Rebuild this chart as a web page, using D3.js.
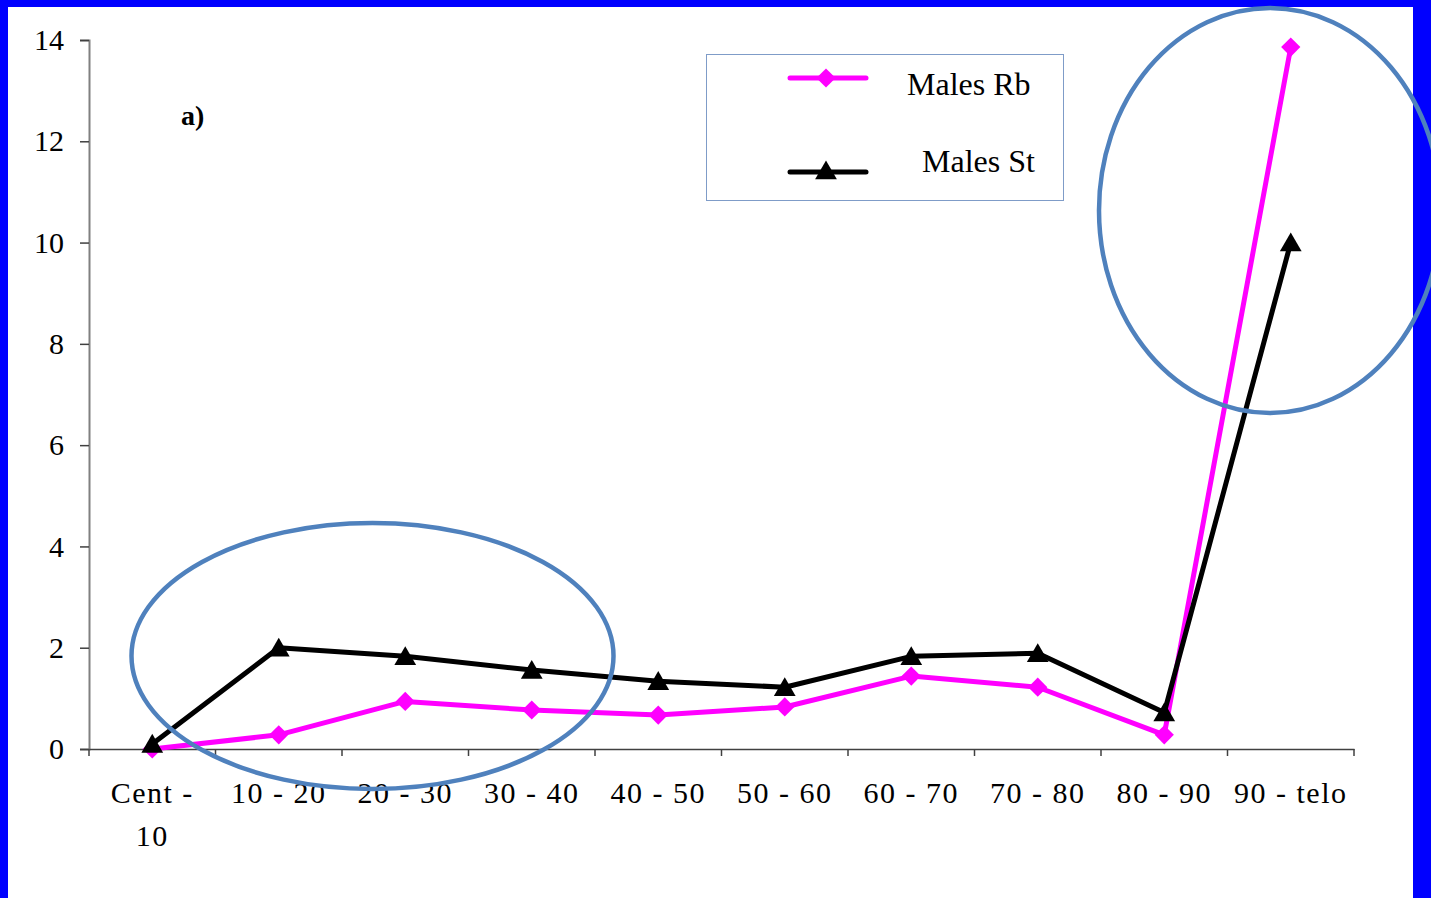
<!DOCTYPE html>
<html><head><meta charset="utf-8">
<script src="https://cdn.jsdelivr.net/npm/d3@7/dist/d3.min.js"></script>
<style>body{margin:0;background:#fff}svg{display:block}text{font-family:"Liberation Serif","Times New Roman",serif}</style>
</head><body>
<script>
const categories = ["Cent - 10","10 - 20","20 - 30","30 - 40","40 - 50","50 - 60","60 - 70","70 - 80","80 - 90","90 - telo"];
const tickLabels = [["Cent -","10"],["10 - 20"],["20 - 30"],["30 - 40"],["40 - 50"],["50 - 60"],["60 - 70"],["70 - 80"],["80 - 90"],["90 - telo"]];
const malesRb = [0, 0.28, 0.94, 0.77, 0.67, 0.83, 1.44, 1.22, 0.28, 13.86];
const malesSt = [0.1, 2.0, 1.83, 1.56, 1.34, 1.22, 1.83, 1.89, 0.72, 10.0];
const yTicks = [0,2,4,6,8,10,12,14];

const W=1431,H=898;
const svg=d3.select("body").append("svg").attr("width",W).attr("height",H);
svg.append("rect").attr("width",W).attr("height",H).attr("fill","#0000FF");
svg.append("rect").attr("x",8).attr("y",7).attr("width",1413-8).attr("height",H-7).attr("fill","#fff");

const x=d3.scaleBand().domain(categories).range([89,1354]).padding(0);
const y=d3.scaleLinear().domain([0,14]).range([749,40]);
const cx=c=>x(c)+x.bandwidth()/2;

// y axis
const ya=svg.append("g").attr("transform","translate(89,0)")
  .call(d3.axisLeft(y).tickValues(yTicks).tickSize(9).tickPadding(16).tickFormat(d3.format("d")));
ya.select(".domain").attr("stroke","#808080").attr("stroke-width",2);
ya.selectAll(".tick line").attr("stroke","#404040").attr("stroke-width",1.5);
ya.selectAll(".tick text").attr("font-size",30).attr("fill","#000").attr("font-family","Liberation Serif").attr("dy","0.32em");

// x axis
const xa=svg.append("g").attr("transform","translate(0,749)")
  .call(d3.axisBottom(x).tickValues([]).tickSizeOuter(0));
xa.select(".domain").attr("stroke","#404040").attr("stroke-width",1.5);
const boundaries=categories.map(c=>x(c)).concat([x(categories[categories.length-1])+x.bandwidth()]);
xa.selectAll("line.b").data(boundaries).enter().append("line").attr("class","b")
  .attr("x1",d=>d).attr("x2",d=>d).attr("y1",0).attr("y2",7).attr("stroke","#404040").attr("stroke-width",1.5);
categories.forEach((c,i)=>{
  const t=svg.append("text").attr("x",cx(c)).attr("y",803).attr("text-anchor","middle")
    .attr("font-size",30).attr("letter-spacing","1.5px").attr("fill","#000");
  tickLabels[i].forEach((s,j)=>t.append("tspan").attr("x",cx(c)).attr("dy",j?43:0).text(s));
});

// lines
const line=d3.line().x((d,i)=>cx(categories[i])).y(d=>y(d));
svg.append("path").datum(malesRb).attr("d",line).attr("fill","none").attr("stroke","#FF00FF").attr("stroke-width",5).attr("stroke-linejoin","round");
svg.append("path").datum(malesSt).attr("d",line).attr("fill","none").attr("stroke","#000").attr("stroke-width",5).attr("stroke-linejoin","round");
const diamond=d3.symbol().type(d3.symbolSquare).size(185);
svg.selectAll("path.rb").data(malesRb).enter().append("path").attr("class","rb")
  .attr("d",diamond).attr("fill","#FF00FF")
  .attr("transform",(d,i)=>`translate(${cx(categories[i])},${y(d)}) rotate(45)`);
const tri=d3.symbol().type(d3.symbolTriangle).size(205);
svg.selectAll("path.st").data(malesSt).enter().append("path").attr("class","st")
  .attr("d",tri).attr("fill","#000")
  .attr("transform",(d,i)=>`translate(${cx(categories[i])},${y(d)+2.5})`);

// ellipses
svg.append("ellipse").attr("cx",372.5).attr("cy",656).attr("rx",241).attr("ry",133)
  .attr("fill","none").attr("stroke","#4F81BD").attr("stroke-width",4.5);
svg.append("ellipse").attr("cx",1270).attr("cy",210.5).attr("rx",171).attr("ry",202.5)
  .attr("fill","none").attr("stroke","#4F81BD").attr("stroke-width",4.5);

// label a)
svg.append("text").attr("x",181).attr("y",125).attr("font-size",28).attr("font-weight","bold").text("a)");

// legend
svg.append("rect").attr("x",706.5).attr("y",54.5).attr("width",357).attr("height",146)
  .attr("fill","#fff").attr("stroke","#7F9CC8").attr("stroke-width",1);
svg.append("line").attr("x1",790).attr("x2",866).attr("y1",78).attr("y2",78).attr("stroke","#FF00FF").attr("stroke-width",5).attr("stroke-linecap","round");
svg.append("path").attr("d",diamond).attr("fill","#FF00FF").attr("transform","translate(826,78) rotate(45)");
svg.append("line").attr("x1",790).attr("x2",866).attr("y1",172).attr("y2",172).attr("stroke","#000").attr("stroke-width",5).attr("stroke-linecap","round");
svg.append("path").attr("d",tri).attr("fill","#000").attr("transform","translate(826,173)");
svg.append("text").attr("x",907).attr("y",95).attr("font-size",32).text("Males Rb");
svg.append("text").attr("x",922).attr("y",172).attr("font-size",32).text("Males St");
</script>
</body></html>
